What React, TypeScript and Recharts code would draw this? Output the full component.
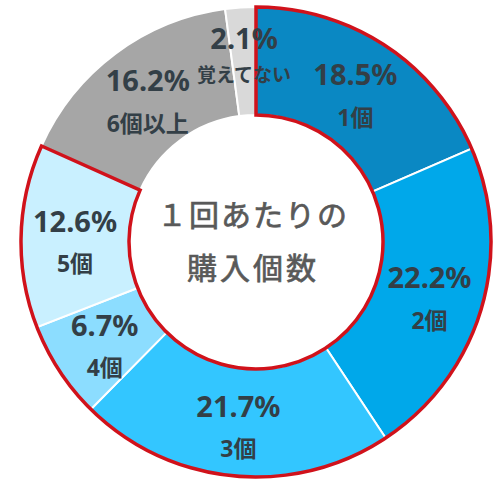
import { PieChart, Pie, Cell } from 'recharts';

const categories = ["1個", "2個", "3個", "4個", "5個", "6個以上", "覚えてない"];
const shares = [18.5, 22.2, 21.7, 6.7, 12.6, 16.2, 2.1];
const colors = ["#0a88c3", "#00a8ea", "#33c6ff", "#8cddff", "#c9f0ff", "#a6a6a6", "#d9d9d9"];
// 赤枠で囲むグループ（1個〜5個）
const groupSize = 5;
const titleLines = ["１回あたりの", "購入個数"];

const data = categories.map((name, i) => ({ name, value: shares[i] }));
const groupTotal = shares.slice(0, groupSize).reduce((a, b) => a + b, 0);
const groupRest = shares.slice(groupSize).reduce((a, b) => a + b, 0);
const outline = [{ name: "group", value: groupTotal }, { name: "rest", value: groupRest }];

const RAD = Math.PI / 180;
const labelColor = "#333f47";

function renderLabel(props: any) {
    const { cx, cy, midAngle, innerRadius, outerRadius, payload } = props;
    const r = (innerRadius + outerRadius) / 2;
    const x = cx + r * Math.cos(-midAngle * RAD);
    const y = cy + r * Math.sin(-midAngle * RAD);
    const small = payload.name.length > 4;
    return (
        <g>
            <text x={x} y={y + (small ? -24 : -17)} textAnchor="middle" dominantBaseline="central"
                fill={labelColor} fontSize={29} fontWeight="bold">
                {`${payload.value.toFixed(1)}%`}
            </text>
            <text x={x} y={y + (small ? 14 : 26)} textAnchor="middle" dominantBaseline="central"
                fill={labelColor} fontSize={small ? 19 : 23} fontWeight="bold">
                {payload.name}
            </text>
        </g>
    );
}

export default function App() {
    const cx = 251;
    const cy = 237;
    return (
        <div style={{ position: 'absolute', left: 0, top: 0, width: 503, height: 480, background: '#fff',
            fontFamily: "'Noto Sans', 'Noto Sans CJK JP', sans-serif" }}>
            <PieChart width={503} height={480}>
                <Pie
                    data={data}
                    dataKey="value"
                    cx={cx}
                    cy={cy}
                    innerRadius={127}
                    outerRadius={235}
                    startAngle={90}
                    endAngle={-270}
                    stroke="#ffffff"
                    strokeWidth={2}
                    label={renderLabel}
                    labelLine={false}
                    isAnimationActive={false}
                >
                    {data.map((d, i) => (
                        <Cell key={d.name} fill={colors[i]} />
                    ))}
                </Pie>
                <Pie
                    data={outline}
                    dataKey="value"
                    cx={cx}
                    cy={cy}
                    innerRadius={127}
                    outerRadius={235}
                    startAngle={90}
                    endAngle={-270}
                    isAnimationActive={false}
                    legendType="none"
                >
                    <Cell fill="none" stroke="#d0121b" strokeWidth={3.5} />
                    <Cell fill="none" stroke="none" />
                </Pie>
                <text x={cx + 2} y={213} textAnchor="middle" dominantBaseline="central" fill="#595959"
                    stroke="#595959" strokeWidth={0.7}
                    fontSize={30} letterSpacing={2}
                    fontFamily="'Noto Sans CJK JP', sans-serif">
                    {titleLines[0]}
                </text>
                <text x={cx + 2} y={266} textAnchor="middle" dominantBaseline="central" fill="#595959"
                    stroke="#595959" strokeWidth={0.7}
                    fontSize={30} letterSpacing={3}
                    fontFamily="'Noto Sans CJK JP', sans-serif">
                    {titleLines[1]}
                </text>
            </PieChart>
        </div>
    );
}
